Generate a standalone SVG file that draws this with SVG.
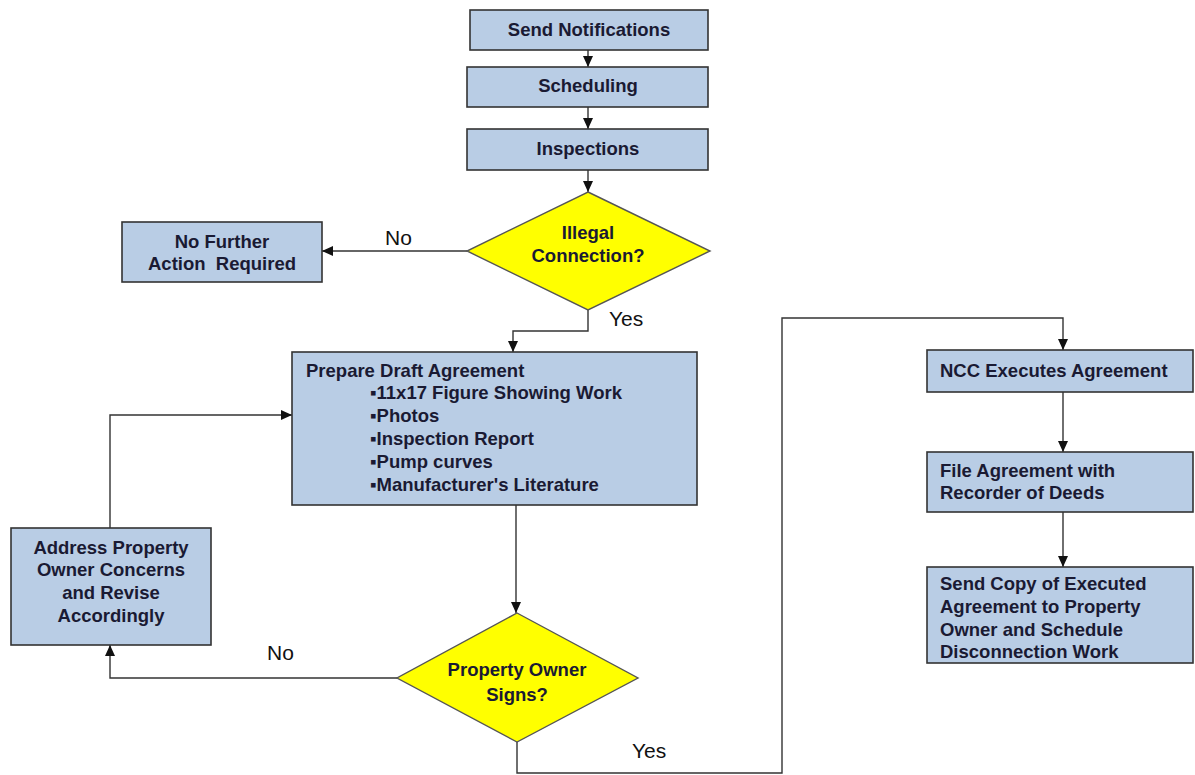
<svg xmlns="http://www.w3.org/2000/svg" width="1195" height="775" viewBox="0 0 1195 775">
<style>
.box{fill:#b9cde5;stroke:#333;stroke-width:1.6}
.dia{fill:#ffff00;stroke:#555;stroke-width:1.4}
.t{font-family:"Liberation Sans",Arial,sans-serif;font-weight:bold;font-size:18.5px;fill:#1a1a33}
.c{text-anchor:middle}
.lbl{font-family:"Liberation Sans",Arial,sans-serif;font-size:21px;fill:#111}
.con{fill:none;stroke:#333;stroke-width:1.4}
</style>
<defs>
<marker id="ah" markerUnits="userSpaceOnUse" markerWidth="12" markerHeight="12" viewBox="0 0 12 12" refX="11" refY="6" orient="auto">
<path d="M0,1 L11,6 L0,11 Z" fill="#111"/>
</marker>
</defs>
<rect width="1195" height="775" fill="#fff"/>
<g id="connectors">
<path class="con" d="M588,50 V67" marker-end="url(#ah)"/>
<path class="con" d="M588,107 V129" marker-end="url(#ah)"/>
<path class="con" d="M588,170 V192" marker-end="url(#ah)"/>
<path class="con" d="M467,251 H322" marker-end="url(#ah)"/>
<path class="con" d="M588,310 V331 H513 V352" marker-end="url(#ah)"/>
<path class="con" d="M516,505 V613" marker-end="url(#ah)"/>
<path class="con" d="M397,678 H110 V645" marker-end="url(#ah)"/>
<path class="con" d="M110,528 V415 H292" marker-end="url(#ah)"/>
<path class="con" d="M517,742 V773 H782 V318 H1063 V350" marker-end="url(#ah)"/>
<path class="con" d="M1063,392 V452" marker-end="url(#ah)"/>
<path class="con" d="M1063,512 V567" marker-end="url(#ah)"/>
<text class="lbl" x="385" y="245">No</text>
<text class="lbl" x="609" y="326">Yes</text>
<text class="lbl" x="267" y="660">No</text>
<text class="lbl" x="632" y="758">Yes</text>
</g>
<g id="send-notifications">
<rect class="box" x="470" y="10" width="238" height="40"/>
<text class="t c" x="589" y="36">Send Notifications</text>
</g>
<g id="scheduling">
<rect class="box" x="467" y="67" width="241" height="40"/>
<text class="t c" x="588" y="92">Scheduling</text>
</g>
<g id="inspections">
<rect class="box" x="467" y="129" width="241" height="41"/>
<text class="t c" x="588" y="155">Inspections</text>
</g>
<g id="illegal-connection">
<polygon class="dia" points="588,192 710,251 588,310 467,251"/>
<text class="t c" x="588" y="239">Illegal</text>
<text class="t c" x="588" y="262">Connection?</text>
</g>
<g id="no-further-action">
<rect class="box" x="122" y="222" width="200" height="60"/>
<text class="t c" x="222" y="248">No Further</text>
<text class="t c" x="222" y="270" style="white-space:pre">Action  Required</text>
</g>
<g id="prepare-draft">
<rect class="box" x="292" y="352" width="405" height="153"/>
<text class="t" x="306" y="377">Prepare Draft Agreement</text>
<text class="t" x="370" y="399">▪11x17 Figure Showing Work</text>
<text class="t" x="370" y="422">▪Photos</text>
<text class="t" x="370" y="445">▪Inspection Report</text>
<text class="t" x="370" y="468">▪Pump curves</text>
<text class="t" x="370" y="491">▪Manufacturer's  Literature</text>
</g>
<g id="address-concerns">
<rect class="box" x="11" y="528" width="200" height="117"/>
<text class="t c" x="111" y="554">Address Property</text>
<text class="t c" x="111" y="576">Owner Concerns</text>
<text class="t c" x="111" y="599">and Revise</text>
<text class="t c" x="111" y="622">Accordingly</text>
</g>
<g id="property-owner-signs">
<polygon class="dia" points="517,613 638,678 517,742 397,678"/>
<text class="t c" x="517" y="676">Property Owner</text>
<text class="t c" x="517" y="701">Signs?</text>
</g>
<g id="ncc-executes">
<rect class="box" x="927" y="350" width="266" height="42"/>
<text class="t" x="940" y="377">NCC Executes Agreement</text>
</g>
<g id="file-agreement">
<rect class="box" x="927" y="452" width="266" height="60"/>
<text class="t" x="940" y="477">File Agreement with</text>
<text class="t" x="940" y="499">Recorder of Deeds</text>
</g>
<g id="send-copy">
<rect class="box" x="927" y="567" width="266" height="96"/>
<text class="t" x="940" y="590">Send Copy of Executed</text>
<text class="t" x="940" y="613">Agreement to Property</text>
<text class="t" x="940" y="636">Owner and Schedule</text>
<text class="t" x="940" y="658">Disconnection Work</text>
</g>
</svg>
